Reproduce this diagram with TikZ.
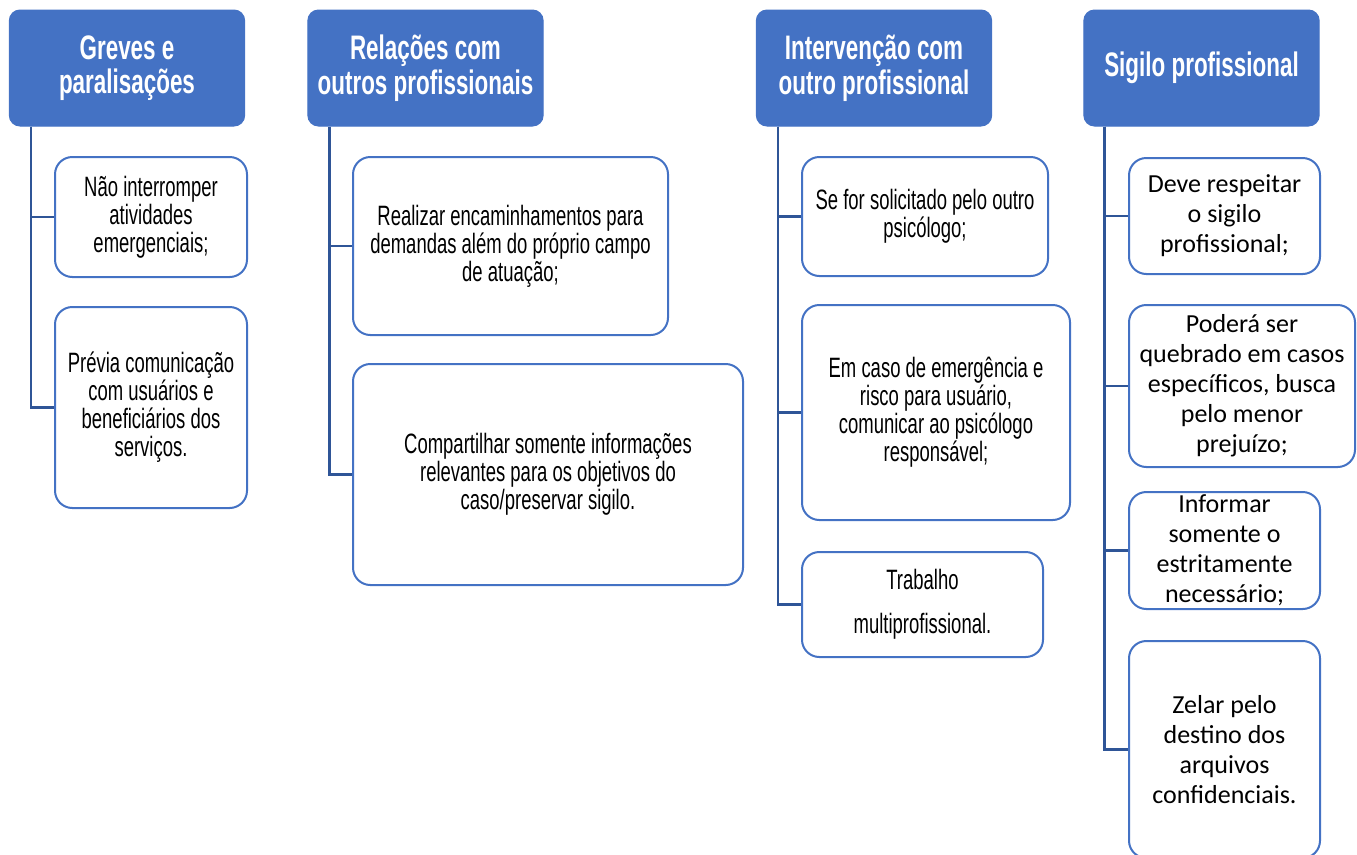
\documentclass[tikz,border=0pt]{standalone}
\usepackage{fontspec}
\setmainfont{Liberation Sans}
\newfontfamily\agencyfont[FakeStretch=0.66]{Liberation Sans}
\newfontfamily\calibrifont{Carlito}

\definecolor{hblue}{RGB}{68,114,196}
\definecolor{lblue}{RGB}{47,85,151}

\tikzset{every picture/.style={line width=0.75pt}}
\tikzset{
  head/.style={rectangle, rounded corners=8pt, fill=hblue, draw=hblue, text=white, align=center,
    minimum width=176.5pt, minimum height=87pt, inner sep=2pt,
    font=\agencyfont\bfseries\fontsize{25.5}{26}\selectfont},
  item/.style={rectangle, rounded corners=13pt, draw=hblue, fill=white, line width=1.5pt, align=center,
    inner sep=2pt, font=\agencyfont\fontsize{21}{21}\selectfont},
  itemc/.style={item, font=\calibrifont\fontsize{19.5}{22.5}\selectfont},
  link/.style={draw=lblue, line width=2pt},
}

\begin{document}
\begin{tikzpicture}[x=0.75pt,y=0.75pt,yscale=-1,xscale=1]
\useasboundingbox (0,0) rectangle (1357,854);

% Headers
\node [head] (h1) at (127,68) {Greves e\\paralisações};
\node [head] (h2) at (425.5,68) {Relações com\\outros profissionais};
\node [head] (h3) at (874,68) {Intervenção com\\outro profissional};
\node [head] (h4) at (1201.5,68) {Sigilo profissional};

% Greves e paralisações
\node [item, minimum width=144pt, minimum height=90pt] (b11) at (151,217) {Não interromper\\atividades\\emergenciais;};
\node [item, minimum width=144pt, minimum height=150.75pt] (b12) at (151,407.5) {Prévia comunicação\\com usuários e\\beneficiários dos\\serviços.};

% Relações com outros profissionais
\node [item, minimum width=236.25pt, minimum height=133.5pt] (b21) at (510.5,246) {Realizar encaminhamentos para\\demandas além do próprio campo\\de atuação;};
\node [item, minimum width=292.5pt, minimum height=165.75pt] (b22) at (548,474.5) {Compartilhar somente informações\\relevantes para os objetivos do\\caso/preservar sigilo.};

% Intervenção com outro profissional
\node [item, minimum width=184.5pt, minimum height=89.25pt] (b31) at (925,216.5) {Se for solicitado pelo outro\\psicólogo;};
\node [item, minimum width=201pt, minimum height=161.25pt] (b32) at (936,412.5) {Em caso de emergência e\\risco para usuário,\\comunicar ao psicólogo\\responsável;};
\node [item, minimum width=180.75pt, minimum height=78.75pt, font=\agencyfont\fontsize{21}{33}\selectfont] (b33) at (922.5,604.5) {Trabalho\\multiprofissional.};

% Sigilo profissional
\node [itemc, minimum width=143.25pt, minimum height=87pt] (b41) at (1224.5,216) {Deve respeitar\\o sigilo\\profissional;};
\node [itemc, minimum width=169.5pt, minimum height=121.5pt] (b42) at (1242,386) {Poderá ser\\quebrado em casos\\específicos, busca\\pelo menor\\prejuízo;};
\node [itemc, minimum width=143.25pt, minimum height=87.75pt] (b43) at (1224.5,550.5) {Informar\\somente o\\estritamente\\necessário;};
\node [itemc, minimum width=143.25pt, minimum height=162.75pt] (b44) at (1224.5,749.5) {Zelar pelo\\destino dos\\arquivos\\confidenciais.};

% Connectors
\draw [link] ([xshift=16.5pt]h1.south west) |- (b11.west);
\draw [link] ([xshift=16.5pt]h1.south west) |- (b12.west);
\draw [link] ([xshift=16.5pt]h2.south west) |- (b21.west);
\draw [link] ([xshift=16.5pt]h2.south west) |- (b22.west);
\draw [link] ([xshift=16.5pt]h3.south west) |- (b31.west);
\draw [link] ([xshift=16.5pt]h3.south west) |- (b32.west);
\draw [link] ([xshift=16.5pt]h3.south west) |- (b33.west);
\draw [link] ([xshift=16pt]h4.south west) |- (b41.west);
\draw [link] ([xshift=16pt]h4.south west) |- (b42.west);
\draw [link] ([xshift=16pt]h4.south west) |- (b43.west);
\draw [link] ([xshift=16pt]h4.south west) |- (b44.west);

\end{tikzpicture}
\end{document}
